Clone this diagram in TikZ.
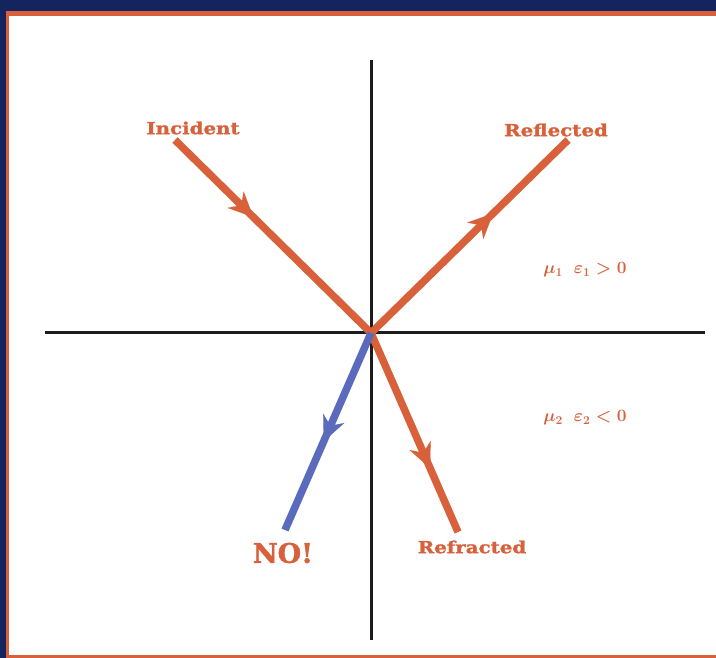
\documentclass[tikz,border=0pt]{standalone}
\usepackage{fontspec}
\setmainfont{Liberation Serif}
\newfontfamily\labfont[FakeStretch=1.2,FakeBold=1.5]{DejaVu Serif}
\newfontfamily\nofont[FakeBold=1.5]{DejaVu Serif}
\usepackage{tikz}
\usetikzlibrary{arrows.meta,decorations.markings}
\definecolor{navy}{HTML}{14245E}
\definecolor{ray}{HTML}{D8613C}
\definecolor{wrongray}{HTML}{5A6BBE}
\definecolor{ink}{HTML}{1C1C1C}
\tikzset{>=Stealth,
  axis/.style={draw=ink,line width=3pt},
  beam/.style={draw=ray,line width=7.5pt},
  tip at/.style={postaction={decorate},decoration={markings,
      mark=at position #1 with {\arrow[line width=0.1pt]{Stealth[length=25pt,width=23pt,inset=8pt]}}}},
  lab/.style={text=ray,font=\labfont\bfseries\fontsize{16.5}{17}\selectfont,inner sep=0pt},
  medium/.style={text=ray,font=\fontsize{17}{17}\selectfont\boldmath,inner sep=0pt}}
\begin{document}
\begin{tikzpicture}[x=1pt,y=-1pt]
  \useasboundingbox (0,0) rectangle (716,658);
  \fill[navy] (0,0) rectangle (716,658);
  \fill[ray] (6,11) rectangle (716,658);
  \fill[white] (9,16) rectangle (716,655);
  % axes
  \coordinate (O) at (371,333);
  \coordinate (top) at (371,60);
  \coordinate (bot) at (371,640);
  \coordinate (left) at (45,333);
  \coordinate (right) at (705,333);
  \draw[axis] (top) -- (bot);
  \draw[axis] (left) -- (right);
  % rays
  \coordinate (inc) at (175,140);
  \coordinate (refl) at (568,140);
  \coordinate (refr) at (458,532);
  \coordinate (no) at (285,530);
  \draw[beam,tip at=0.4] (inc) -- (O);
  \draw[beam,tip at=0.62] (O) -- (refl);
  \draw[beam,tip at=0.68] (O) -- (refr);
  \draw[beam,draw=wrongray,tip at=0.55] (O) -- (no);
  % labels
  \node[lab] (tInc) at (193,128) {Incident};
  \node[lab] (tRefl) at (556,130) {Reflected};
  \node[lab] (tRefr) at (472,547) {Refracted};
  \node[lab,font=\nofont\bfseries\fontsize{27}{27}\selectfont] (tNo) at (283,553) {NO!};
  \node[medium] (m1) at (585,270) {$\mu_1\;\;\varepsilon_1\;{>}\;0$};
  \node[medium] (m2) at (585,418) {$\mu_2\;\;\varepsilon_2\;{<}\;0$};
\end{tikzpicture}
\end{document}
